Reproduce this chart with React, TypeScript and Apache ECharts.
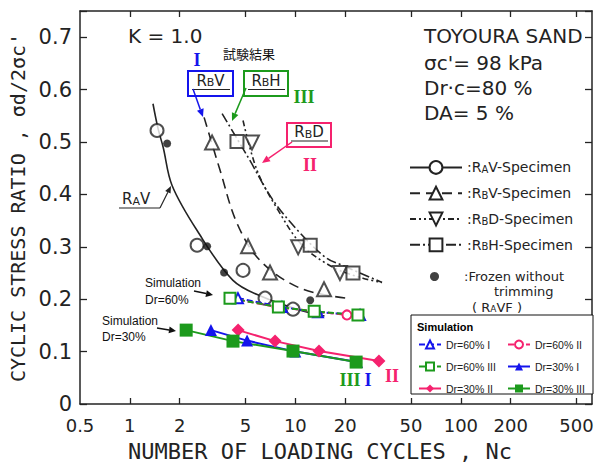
import React, { useEffect, useRef } from "react";
import * as echarts from "echarts";

// ---------- axis ticks ----------
const xTickValues = [0.5, 1, 2, 5, 10, 20, 50, 100, 200, 500];
const X_MIN = 0.5;
const X_MAX = 620;
const Y_MIN = 0;
const Y_MAX = 0.75;

// ---------- test results (scanned figure) ----------
// fitted curves [N, ratio]
const ravCurve = [[1.38, 0.573], [1.48, 0.526], [1.59, 0.49], [1.8, 0.417], [2.55, 0.331], [4.2, 0.236], [6.38, 0.204], [10.7, 0.179], [15, 0.168]];
const rbvCurve = [[2.81, 0.547], [3.51, 0.446], [4.44, 0.345], [6.12, 0.274], [10.7, 0.221], [20.5, 0.202]];
const rbdCurve = [[4.83, 0.541], [5.87, 0.446], [7.86, 0.37], [11.0, 0.303], [16.9, 0.261], [25.6, 0.24], [33.4, 0.232]];
const rbhCurve = [[3.61, 0.554], [5.2, 0.47], [7.33, 0.389], [11.0, 0.322], [15.5, 0.278], [19.1, 0.265], [33.4, 0.232]];
// measured points
const ravPoints = [[1.46, 0.522], [2.55, 0.303], [4.83, 0.255], [6.56, 0.202], [9.68, 0.181]];
const rbvPoints = [[3.14, 0.499], [5.18, 0.301], [7.03, 0.251], [14.9, 0.219]];
const rbdPoints = [[5.47, 0.499], [10.4, 0.299], [18.6, 0.25]];
const rbhPoints = [[4.44, 0.501], [12.3, 0.303], [22.3, 0.25]];
const frozenPoints = [[1.68, 0.497], [2.93, 0.301], [3.71, 0.251], [12.3, 0.198]];

// ---------- simulation ----------
const sim60I = [[4.5, 0.202], [8.3, 0.185], [13.7, 0.175], [24.6, 0.17]];
const sim60II = [[4.03, 0.202], [7.75, 0.185], [12.8, 0.177], [20.5, 0.17]];
const sim60III = [[4.03, 0.202], [7.9, 0.185], [13.0, 0.177], [23.9, 0.17]];
const sim30I = [[3.09, 0.141], [5.11, 0.121], [10.0, 0.1], [23.6, 0.08]];
const sim30II = [[4.51, 0.141], [7.54, 0.12], [13.9, 0.101], [32.0, 0.082]];
const sim30III = [[2.19, 0.141], [4.2, 0.12], [9.68, 0.101], [23.3, 0.08]];

const INK = "#232323";
const BLUE = "#1414ec";
const PINK = "#f5226e";
const GREEN = "#1c9a1c";
const SANS = "DejaVu Sans";
const MONO = "DejaVu Sans Mono";
const SERIF = "Liberation Serif";

function fmtTick(v: number) {
  const n = Math.pow(10, v);
  return String(Number(n.toPrecision(3)));
}

function arrow(x1: number, y1: number, x2: number, y2: number, color: string, lw = 1.5, hl = 8, hw = 3.5) {
  const a = Math.atan2(y2 - y1, x2 - x1);
  const bx = x2 - hl * Math.cos(a);
  const by = y2 - hl * Math.sin(a);
  const px = -Math.sin(a) * hw;
  const py = Math.cos(a) * hw;
  return [
    { type: "line", z: 20, shape: { x1, y1, x2: bx, y2: by }, style: { stroke: color, lineWidth: lw } },
    { type: "polygon", z: 20, shape: { points: [[x2, y2], [bx + px, by + py], [bx - px, by - py]] }, style: { fill: color } },
  ];
}

function txt(text: string, x: number, y: number, opts: any = {}) {
  return {
    type: "text",
    z: 20,
    x,
    y,
    style: {
      text,
      fill: opts.fill || INK,
      fontSize: opts.fontSize || 14,
      fontFamily: opts.fontFamily || SANS,
      fontWeight: opts.fontWeight || "normal",
      align: opts.align || "left",
      verticalAlign: "middle",
      rich: opts.rich,
    },
  };
}

const smallRich = (size: number) => ({ s: { fontSize: size, fontFamily: SANS, fill: INK, verticalAlign: "bottom" } });

function boxLabel(label: string, x1: number, y1: number, x2: number, y2: number, color: string) {
  const cx = (x1 + x2) / 2;
  const cy = (y1 + y2) / 2;
  return [
    { type: "rect", z: 20, shape: { x: x1, y: y1, width: x2 - x1, height: y2 - y1 }, style: { fill: "#fff", stroke: color, lineWidth: 2 } },
    txt(label, cx, cy - 3, { align: "center", fontSize: 15, rich: smallRich(11) }),
    { type: "line", z: 20, shape: { x1: x1 + 4, y1: cy + 6, x2: x2 - 3, y2: cy + 6 }, style: { stroke: INK, lineWidth: 1 } },
  ];
}

function romanText(t: string, x: number, y: number, color: string) {
  return txt(t, x, y, { fill: color, fontSize: 18, fontFamily: SERIF, fontWeight: "bold", align: "center" });
}

export default function App() {
  const ref = useRef<HTMLDivElement>(null);
  useEffect(() => {
    document.body.style.margin = "0";
    if (!ref.current) return;
    const chart = echarts.init(ref.current, null, { renderer: "svg" });
    const logCustom = xTickValues.map((v) => Math.log10(v));
    const tickCustom = xTickValues.slice(1).map((v) => Math.log10(v));
    const axisLineStyle = { color: INK, width: 1.5 };

    const scanLine = (name: string, data: number[][], type: any, symbol: string, rotate = 0) => ({
      name,
      type: "line",
      data,
      smooth: 0.35,
      showSymbol: false,
      symbol,
      symbolRotate: rotate,
      color: INK,
      itemStyle: { color: INK },
      lineStyle: { color: INK, width: 1.6, type },
      silent: true,
      z: 2,
    });
    const scanPts = (name: string, data: number[][], symbol: string, size: number, rotate = 0) => ({
      name,
      type: "scatter",
      data,
      symbol,
      symbolSize: size,
      symbolRotate: rotate,
      itemStyle: { color: INK, borderWidth: 1.4 },
      silent: true,
      z: 3,
    });
    const simLine = (name: string, data: number[][], color: string, dashed: boolean, symbol: string, size: number) => ({
      name,
      type: "line",
      data,
      symbol,
      symbolSize: size,
      showSymbol: true,
      color,
      itemStyle: { color, borderWidth: 1.5 },
      lineStyle: { color, width: 2, type: dashed ? [6, 3] : "solid" },
      silent: true,
      z: 5,
    });

    const option: any = {
      animation: false,
      backgroundColor: "#fff",
      grid: { left: 80, top: 11, right: 8, bottom: 60, outerBoundsMode: "none" },
      xAxis: [
        {
          type: "log",
          logBase: 10,
          min: X_MIN,
          max: X_MAX,
          position: "bottom",
          axisLine: { show: true, onZero: false, lineStyle: axisLineStyle },
          axisTick: { show: false },
          axisLabel: { show: false },
          splitLine: { show: false },
          minorTick: { show: false },
          name: "NUMBER OF LOADING CYCLES , Nc",
          nameLocation: "middle",
          nameGap: 36,
          nameTextStyle: { fontFamily: MONO, fontSize: 22, color: INK, padding: [0, 32, 0, 0] },
        },
        {
          type: "value",
          min: Math.log10(X_MIN),
          max: Math.log10(X_MAX),
          position: "bottom",
          axisLine: { show: false, onZero: false },
          axisTick: { show: true, inside: true, length: 6, lineStyle: { color: INK, width: 1.3 }, customValues: tickCustom },
          axisLabel: { show: true, customValues: logCustom, formatter: fmtTick, margin: 12, fontFamily: SANS, fontSize: 18, color: INK },
          splitLine: { show: false },
        },
        {
          type: "value",
          min: Math.log10(X_MIN),
          max: Math.log10(X_MAX),
          position: "top",
          axisLine: { show: true, onZero: false, lineStyle: axisLineStyle },
          axisTick: { show: true, inside: true, length: 6, lineStyle: { color: INK, width: 1.3 }, customValues: tickCustom },
          axisLabel: { show: false },
          splitLine: { show: false },
        },
      ],
      yAxis: [
        {
          type: "value",
          min: Y_MIN,
          max: Y_MAX,
          interval: 0.1,
          position: "left",
          axisLine: { show: true, onZero: false, lineStyle: axisLineStyle },
          axisTick: { show: true, inside: true, length: 7, lineStyle: { color: INK, width: 1.3 } },
          axisLabel: {
            margin: 8,
            fontFamily: SANS,
            fontSize: 21,
            color: INK,
            formatter: (v: number) => {
              const k = Math.round(v * 10);
              if (Math.abs(v * 10 - k) > 1e-6 || v > 0.7001) return "";
              return k === 0 ? "0" : v.toFixed(1);
            },
          },
          splitLine: { show: false },
          name: "CYCLIC STRESS RATIO , σd/2σc'",
          nameLocation: "middle",
          nameRotate: 90,
          nameGap: 48,
          nameTextStyle: { fontFamily: MONO, fontSize: 20, color: INK },
        },
        {
          type: "value",
          min: Y_MIN,
          max: Y_MAX,
          interval: 0.1,
          position: "right",
          axisLine: { show: true, onZero: false, lineStyle: axisLineStyle },
          axisTick: { show: true, inside: true, length: 7, lineStyle: { color: INK, width: 1.3 } },
          axisLabel: { show: false },
          splitLine: { show: false },
        },
      ],
      legend: [
        {
          data: ["RAV", "RBV", "RBD", "RBH"],
          orient: "vertical",
          left: 409,
          top: 160,
          padding: 0,
          itemWidth: 52,
          itemHeight: 16,
          itemGap: 11,
          selectedMode: false,
          formatter: (n: string) => ({ RAV: ":R{s|A}V-Specimen", RBV: ":R{s|B}V-Specimen", RBD: ":R{s|B}D-Specimen", RBH: ":R{s|B}H-Specimen" } as any)[n],
          textStyle: { fontFamily: SANS, fontSize: 14, color: INK, rich: { s: { fontSize: 10, fontFamily: SANS, color: INK, verticalAlign: "bottom" } } },
        },
        {
          data: ["Frozen"],
          orient: "vertical",
          left: 430,
          top: 270,
          padding: 0,
          itemWidth: 9,
          itemHeight: 9,
          selectedMode: false,
          formatter: () => ":Frozen without",
          textStyle: { fontFamily: SANS, fontSize: 13, color: INK, padding: [0, 0, 0, 20] },
        },
        {
          data: ["Dr=60% I", "Dr=60% III", "Dr=30% II"],
          orient: "vertical",
          left: 418,
          top: 339,
          padding: 0,
          itemWidth: 22,
          itemHeight: 10,
          itemGap: 11,
          selectedMode: false,
          textStyle: { fontFamily: "Liberation Sans", fontSize: 10.5, color: "#222" },
          z: 30,
        },
        {
          data: ["Dr=60% II", "Dr=30% I", "Dr=30% III"],
          orient: "vertical",
          left: 507,
          top: 339,
          padding: 0,
          itemWidth: 22,
          itemHeight: 10,
          itemGap: 11,
          selectedMode: false,
          textStyle: { fontFamily: "Liberation Sans", fontSize: 10.5, color: "#222" },
          z: 30,
        },
      ],
      series: [
        scanLine("RAV", ravCurve, "solid", "emptyCircle"),
        scanLine("RBV", rbvCurve, [10, 6], "emptyTriangle"),
        scanLine("RBD", rbdCurve, [6, 3, 2, 3, 2, 3], "emptyTriangle", 180),
        scanLine("RBH", rbhCurve, [10, 3, 2, 3], "emptyRect"),
        scanPts("RAV", ravPoints, "emptyCircle", 13),
        scanPts("RBV", rbvPoints, "emptyTriangle", 14),
        scanPts("RBD", rbdPoints, "emptyTriangle", 14, 180),
        scanPts("RBH", rbhPoints, "emptyRect", 13),
        {
          name: "Frozen",
          type: "scatter",
          data: frozenPoints,
          symbol: "circle",
          symbolSize: 8,
          itemStyle: { color: "#111", borderWidth: 0 },
          silent: true,
          z: 3,
        },
        simLine("Dr=60% I", sim60I, BLUE, true, "emptyTriangle", 10),
        simLine("Dr=60% II", sim60II, PINK, true, "emptyCircle", 9),
        simLine("Dr=60% III", sim60III, GREEN, true, "emptyRect", 11),
        simLine("Dr=30% I", sim30I, BLUE, false, "triangle", 12),
        simLine("Dr=30% II", sim30II, PINK, false, "diamond", 13),
        simLine("Dr=30% III", sim30III, GREEN, false, "rect", 13),
      ],
      graphic: {
        elements: [
          txt("K = 1.0", 128, 36, { fontSize: 20 }),
          txt("試験結果", 223, 53, { fontSize: 13, fontFamily: "Noto Sans CJK JP", fill: "#111" }),
          romanText("I", 197, 60, BLUE),
          ...boxLabel("R{s|B}V", 188, 71, 233, 96, BLUE),
          ...arrow(193, 89, 203, 117, BLUE),
          ...boxLabel("R{s|B}H", 244, 71, 288, 96, GREEN),
          ...arrow(246, 88, 232, 121, GREEN),
          romanText("III", 304, 97, GREEN),
          ...boxLabel("R{s|B}D", 287, 123, 331, 147, PINK),
          ...arrow(292, 142, 262, 163, PINK),
          romanText("II", 310, 165, PINK),
          txt("TOYOURA SAND", 424, 36, { fontSize: 20 }),
          txt("σc'= 98 kPa", 424, 63, { fontSize: 20 }),
          txt("Dr·c=80 %", 424, 88, { fontSize: 20 }),
          txt("DA= 5 %", 424, 113, { fontSize: 20 }),
          txt("trimming", 494, 291, { fontSize: 13 }),
          txt("( R{s|A}VF )", 472, 307, { fontSize: 13, rich: smallRich(9) }),
          txt("R{s|A}V", 122, 199, { fontSize: 15, rich: smallRich(11) }),
          { type: "line", z: 20, shape: { x1: 119, y1: 208, x2: 160, y2: 208 }, style: { stroke: INK, lineWidth: 1.2 } },
          ...arrow(160, 208, 171, 186, INK, 1.2, 7, 3),
          txt("Simulation", 145, 283, { fontSize: 12, fontFamily: "Liberation Sans", fill: "#111" }),
          txt("Dr=60%", 145, 300, { fontSize: 12, fontFamily: "Liberation Sans", fill: "#111" }),
          ...arrow(194, 291, 213, 295, "#111", 1.5, 7, 3.5),
          txt("Simulation", 102, 321, { fontSize: 12, fontFamily: "Liberation Sans", fill: "#111" }),
          txt("Dr=30%", 102, 337, { fontSize: 12, fontFamily: "Liberation Sans", fill: "#111" }),
          ...arrow(157, 328, 176, 331, "#111", 1.5, 7, 3.5),
          romanText("III", 350, 380, GREEN),
          romanText("I", 368, 380, BLUE),
          romanText("II", 392, 376, PINK),
          { type: "rect", z: 3, shape: { x: 411, y: 315, width: 182, height: 79 }, style: { fill: "#fff", stroke: "#111", lineWidth: 1 } },
          txt("Simulation", 417, 327, { fontSize: 11, fontFamily: "Liberation Sans", fontWeight: "bold", fill: "#000" }),
        ],
      },
    };
    chart.setOption(option);
    return () => chart.dispose();
  }, []);
  return <div ref={ref} style={{ width: 600, height: 464 }} />;
}
